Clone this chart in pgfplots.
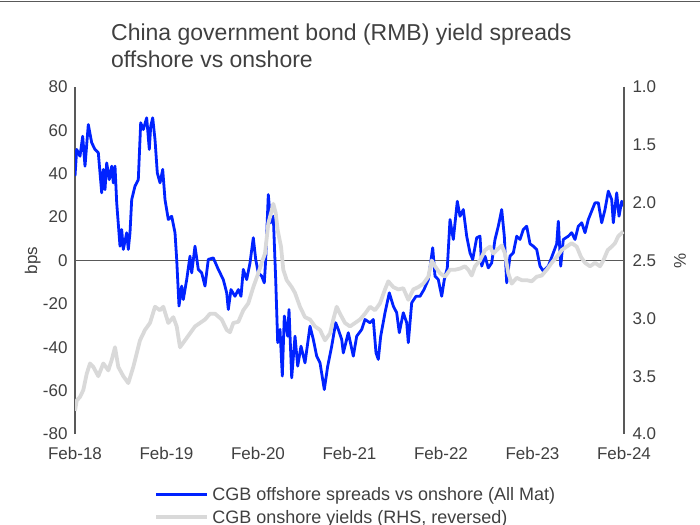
\documentclass[border=0pt]{standalone}
\usepackage{pgfplots}
\pgfplotsset{compat=1.18}
\usepackage{fontspec}
\setmainfont{Liberation Sans}
\definecolor{cgbblue}{RGB}{0,34,255}
\definecolor{cgbgray}{RGB}{217,217,217}
\definecolor{axgray}{RGB}{89,89,89}
\definecolor{txtgray}{RGB}{64,64,64}

\pgfplotstableread{
x y
75 38.9
76.7 51.2
80 48.1
82.7 57.3
85 43.5
88.3 62.7
91.7 54.3
95 51.2
98.3 49.7
101.7 31.2
103.3 42
105 32.7
106.7 45
109.3 37.3
111.7 43.5
113.3 35.8
115 43.5
116.7 26.6
120 6.6
121.7 14.3
123.3 5.1
126.7 12.8
128.3 5.1
130 12.8
131.7 28.1
135 34.3
138.3 37.3
140.7 63.5
143.3 60.4
146.7 65.8
149.3 51.2
150.7 61.9
152.7 65.8
155 55.8
157.3 40.4
160 35.8
162.7 42
165 28.1
168.3 18.9
171.7 20.4
175 12.8
176.7 0.5
179 -21
181.7 -11.8
183.3 -18
186.7 -8.8
190 2
191.7 -5.7
195 6.6
198.3 -4.1
201.7 -5.7
205 -11.8
208.3 0.5
213.3 1.2
218.3 -4.1
223.3 -8.8
226.7 -14.9
228.3 -22.6
231 -13.4
235 -16.5
238.3 -13.4
241 -16.5
243.3 -4.1
246.7 -8.8
250 -1.1
253.3 10.5
255.7 0.5
258.3 -5.7
261.7 -7.2
264.3 -10.3
265.7 0.5
268.3 30.4
270.7 17.4
273.3 20.4
275.7 -8.8
277.7 -37.9
280 -31.8
282.3 -53.3
284.3 -25.6
287.7 -34.9
289 -22.6
291.7 -54.1
295 -34.9
297.7 -48.7
301 -39.5
305 -47.2
310 -30.3
313.3 -36.4
316.7 -44.1
320 -47.2
324.3 -59.5
327.7 -48.7
331.7 -39.5
335.7 -28.7
338.3 -31.8
341.7 -36.4
343.3 -42.6
348.3 -33.3
353.3 -44.1
356.7 -34.9
361.7 -31.8
365 -27.2
370 -28.7
373.3 -27.2
376 -42.6
378.3 -45.6
380.7 -34.9
385 -24.1
389.3 -14.9
393.3 -21
396.7 -24.1
399.3 -33.3
403.3 -24.1
406.7 -28.7
408.3 -37.9
411.7 -19.5
416 -16.5
420 -16.5
424 -13.4
428.3 -8.8
432.7 5.9
435 -7.2
438.3 -8.8
441.7 -16.5
444.3 -8.8
447.3 -3.4
450 18.9
453.3 9.7
457.3 27.3
460 20.4
463.3 23.5
466.7 11.2
470 3.5
472.7 0.5
476.7 10.5
480 11.2
481.7 -2.6
485 2
488.3 -3.4
491.7 -1.1
495 9.7
498.3 15.8
501.7 23.5
504.3 11.2
506.7 -10.3
510 2
513.3 3.5
516.7 11.2
520 9.7
523.3 14.3
526.7 15.8
530 7.7
533.3 6.6
536.7 5.1
540 -2.6
543.3 -4.9
548.3 -2.6
553.3 3.5
556.7 7.7
558.3 18.1
560.7 -2.6
563.3 9.7
568.3 11.2
571.7 12.8
575 9.7
578.3 15.8
581.7 17.4
585 12.8
588.3 18.9
592.3 23.5
595 26.6
598.3 26.6
601.7 17.4
605 23.5
608.3 32
611.7 28.1
613.3 17.4
616.7 31.2
619 20.4
621.7 27.3
623.3 25
}\spreads

\pgfplotstableread{
x y
75 3.80
76.7 3.71
80 3.68
83.3 3.62
86.7 3.48
90 3.39
93.3 3.42
98.3 3.50
103.3 3.39
108.3 3.45
111.7 3.36
115 3.25
118.3 3.42
123.3 3.50
128.3 3.56
133.3 3.42
140 3.19
145 3.10
150 3.04
155 2.90
160 2.93
163.3 2.90
168.3 3.04
173.3 2.99
176.7 3.07
180 3.25
185 3.19
190 3.13
195 3.07
200 3.04
205 3.01
210 2.96
215 2.96
221.7 3.01
226.7 3.10
230 3.12
233.3 3.04
238.3 3.03
243.3 2.93
248.3 2.87
253.3 2.73
258.3 2.61
261.7 2.52
265 2.44
268.3 2.18
271 2.09
273.3 2.01
275.7 2.09
277.7 2.24
281 2.38
283.3 2.58
286.7 2.67
291.7 2.73
295 2.78
300 2.90
305 2.99
310 3.01
315 3.07
320 3.10
325 3.19
330 3.13
333.3 3.01
336.7 2.90
340 2.96
345 3.04
350 3.07
355 3.04
360 3.01
365 2.96
370 2.90
375 2.93
380 2.87
385 2.75
388.3 2.68
393.3 2.73
398.3 2.75
403.3 2.74
408.3 2.84
413.3 2.75
418.3 2.73
423.3 2.70
428.3 2.64
431.7 2.50
435 2.55
440 2.61
445 2.64
450 2.58
455 2.58
460 2.57
465 2.55
468.3 2.58
471.7 2.63
475 2.55
480 2.50
485 2.41
490 2.38
493.3 2.44
496.7 2.41
501.7 2.37
505 2.44
508.3 2.61
511.7 2.70
516.7 2.65
521.7 2.67
526.7 2.67
531.7 2.68
536.7 2.64
541.7 2.63
546.7 2.58
551.7 2.52
556.7 2.47
561.7 2.41
566.7 2.38
571.7 2.35
576.7 2.38
581 2.47
585 2.52
590 2.55
595 2.52
600 2.55
603.3 2.50
607.7 2.41
611.7 2.38
615 2.35
618.3 2.29
623.3 2.25
}\yields

\begin{document}
\begin{tikzpicture}
\useasboundingbox (0pt,0pt) rectangle (700pt,524pt);
\draw[axgray, line width=1.2pt] (0pt,522.5pt) -- (700pt,522.5pt);
\node[anchor=north west, align=left, font=\fontsize{23}{27}\selectfont, text=txtgray, inner sep=0pt] at (111pt,500pt) {China government bond (RMB) yield spreads\\offshore vs onshore};

\begin{axis}[
  at={(75pt,90pt)}, anchor=south west, scale only axis,
  width=549pt, height=347pt,
  xmin=75, xmax=624, ymin=-80, ymax=80,
  axis x line*=bottom, x axis line style={draw=none},
  axis y line*=left, y axis line style={-, axgray, line width=1.2pt},
  xtick={75,166.5,258,349.5,441,532.5,624},
  xticklabels={Feb-18,Feb-19,Feb-20,Feb-21,Feb-22,Feb-23,Feb-24},
  ytick={-80,-60,-40,-20,0,20,40,60,80},
  major tick length=0pt,
  /pgf/number format/assume math mode=true,
  tick label style={font=\fontsize{17}{20}\selectfont, text=txtgray},
  yticklabel style={xshift=-4pt},
  xticklabel style={yshift=-10pt},
  ylabel={bps},
  every axis y label/.style={at={(axis description cs:-0.077,0.5)}, rotate=90, anchor=center,
    font=\fontsize{17}{20}\selectfont, text=txtgray},
  legend style={draw=none, fill=none, at={(axis description cs:0.139,-0.145)}, anchor=north west,
    font=\fontsize{18}{21}\selectfont, text=txtgray, row sep=6pt,
    nodes={inner xsep=3pt, inner ysep=1pt}},
  legend cell align=left,
  legend image code/.code={\draw[#1] (0pt,0pt) -- (51pt,0pt);},
]
\addplot[axgray, line width=1.8pt, forget plot] coordinates {(75,0) (624,0)};
\addplot[cgbblue, line width=2.8pt, line join=round] table[x=x,y=y]{\spreads};
\addlegendentry{CGB offshore spreads vs onshore (All Mat)}
\addlegendimage{cgbgray, line width=3.8pt}
\addlegendentry{CGB onshore yields (RHS, reversed)}
\end{axis}

\begin{axis}[
  at={(75pt,90pt)}, anchor=south west, scale only axis,
  width=549pt, height=347pt,
  xmin=75, xmax=624, ymin=1, ymax=4, y dir=reverse,
  axis x line=none,
  axis y line*=right, y axis line style={-, axgray, line width=1.2pt},
  ytick={1,1.5,2,2.5,3,3.5,4},
  major tick length=0pt,
  /pgf/number format/assume math mode=true,
  yticklabel style={font=\fontsize{17}{20}\selectfont, text=txtgray, xshift=5pt,
    /pgf/number format/.cd, fixed, fixed zerofill, precision=1},
  ylabel={\%},
  every axis y label/.style={at={(axis description cs:1.102,0.5)}, rotate=90, anchor=center,
    font=\fontsize{17}{20}\selectfont, text=txtgray},
]
\addplot[cgbgray, line width=3.8pt, line join=round] table[x=x,y=y]{\yields};
\end{axis}
\end{tikzpicture}
\end{document}
